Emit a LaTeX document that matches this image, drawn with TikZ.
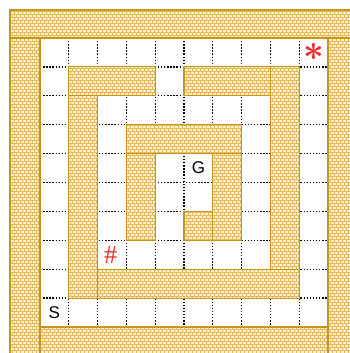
\documentclass[tikz,border=0pt]{standalone}
\usepackage{fontspec}
\newfontfamily\labelfont{Liberation Sans}
\newfontfamily\markfont{Liberation Serif}
\usetikzlibrary{patterns}
\definecolor{wallfill}{HTML}{FBF0D4}
\definecolor{brickline}{HTML}{E4B95F}
\definecolor{wallline}{HTML}{C8951C}
\definecolor{markred}{HTML}{F42828}
\pgfdeclarepatternformonly{smallbricks}{\pgfqpoint{-0.5pt}{-0.5pt}}{\pgfqpoint{4.5pt}{6.5pt}}{\pgfqpoint{4pt}{6pt}}{%
  \pgfsetlinewidth{0.65pt}%
  \pgfpathmoveto{\pgfqpoint{0pt}{0pt}}\pgfpathlineto{\pgfqpoint{4pt}{0pt}}%
  \pgfpathmoveto{\pgfqpoint{0pt}{3pt}}\pgfpathlineto{\pgfqpoint{4pt}{3pt}}%
  \pgfpathmoveto{\pgfqpoint{0pt}{0pt}}\pgfpathlineto{\pgfqpoint{0pt}{3pt}}%
  \pgfpathmoveto{\pgfqpoint{2pt}{3pt}}\pgfpathlineto{\pgfqpoint{2pt}{6pt}}%
  \pgfusepath{stroke}}
\tikzset{
  wall/.style={preaction={fill=wallfill}, preaction={pattern=smallbricks, pattern color=brickline}, draw=wallline, line width=1.1pt},
  gridline/.style={black, line width=1.35pt, dash pattern=on 1.4pt off 1.7pt},
  letter/.style={font=\labelfont\fontsize{17}{17}\selectfont, inner sep=0pt},
  redmark/.style={text=markred, inner sep=0pt}
}
\begin{document}
\begin{tikzpicture}[x=1pt, y=-1pt]
\useasboundingbox (0,0) rectangle (349,353);
% maze grid (cell units)
\begin{scope}[shift={(40,38)}, x=28.8pt, y=-28.9pt]
  \foreach \c in {1,...,9} \draw[gridline] (\c,0) -- (\c,10);
  \foreach \r in {1,...,9} \draw[gridline] (0,\r) -- (10,\r);
  % interior walls
  \path[wall] (1,1) rectangle (4,2);
  \path[wall] (5,1) rectangle (8,2);
  \path[wall] (8,1) rectangle (9,8);
  \path[wall] (1,2) rectangle (2,9);
  \path[wall] (2,8) rectangle (9,9);
  \path[wall] (3,3) rectangle (7,4);
  \path[wall] (3,4) rectangle (4,7);
  \path[wall] (6,4) rectangle (7,7);
  \path[wall] (5,6) rectangle (6,7);
  % labels
  \node[letter] (start) at (0.5,9.5) {S};
  \node[letter] (goal) at (5.5,4.5) {G};
  \node[redmark, font=\markfont\fontsize{26}{26}\selectfont] (hash) at (2.45,7.5) {\#};
  \node[redmark, font=\fontsize{24}{24}\selectfont] (star) at (9.5,0.5) {\scalebox{1.45}{\boldmath$\ast$}};
\end{scope}
% outer walls
\path[wall] (10,10) rectangle (353,38);
\path[wall] (10,38) rectangle (40,357);
\path[wall] (328,38) rectangle (353,357);
\path[wall] (40,327) rectangle (328,357);
\end{tikzpicture}
\end{document}
